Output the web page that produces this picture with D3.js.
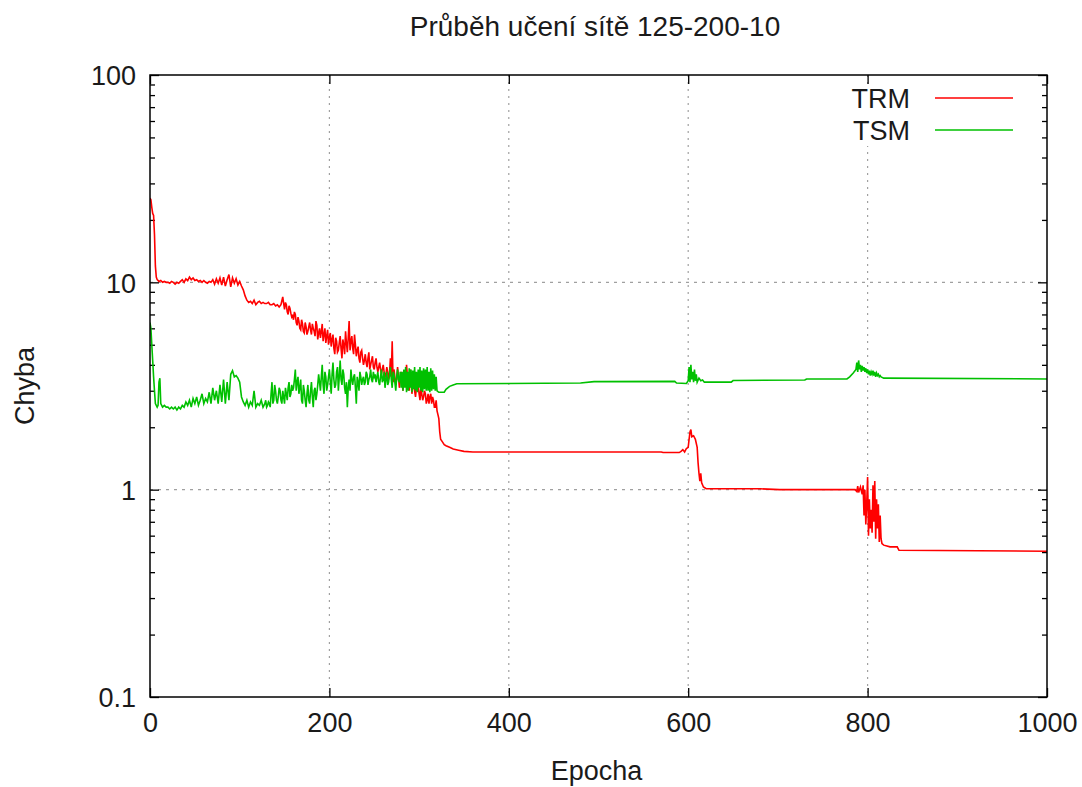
<!DOCTYPE html>
<html>
<head>
<meta charset="utf-8">
<script src="https://cdn.jsdelivr.net/npm/d3@7"></script>
<style>
  html, body { margin: 0; padding: 0; background: #fff; }
  svg { display: block; }
  text { font-family: "Liberation Sans", Arial, sans-serif; fill: #1a1a1a; }
</style>
</head>
<body>
<svg id="chart" width="1082" height="787"></svg>
<script>
const titleText = "Průběh učení sítě 125-200-10";
const xLabel = "Epocha";
const yLabel = "Chyba";
const xTicks = [0, 200, 400, 600, 800, 1000];
const yTicks = [0.1, 1, 10, 100];
const yTickLabels = ["0.1", "1", "10", "100"];
const seriesNames = ["TRM", "TSM"];
const seriesColors = ["#ff0000", "#00c000"];

// TRM: [epoch, error]
const trmData = [
[0,25.5],[1,25],[2,23],[3,21.5],[4,21],[5,17],[6,12],[7,10.6],[8,10.3],
[10,10.1],[12,10.2],[14,10.0],[16,10.1],[18,10.0],[20,10.0],[22,9.9],[24,10.1],[26,10.0],[28,9.8],
[30,10.0],[32,9.9],[34,10.1],[36,10.3],[38,10.0],[40,10.4],[42,10.2],[44,10.6],[46,10.3],[48,10.5],
[50,10.2],[52,10.3],[54,10.1],[56,10.2],[58,10.0],[60,10.2],[62,10.0],[64,9.9],[66,10.1],[68,10.0],
[70,10.3],[72,9.8],[74,10.4],[76,9.9],[78,10.5],[80,9.7],[82,10.6],[84,9.6],[86,10.3],[88,10.9],
[90,9.5],[92,10.5],[94,9.9],[96,10.4],[98,9.7],[100,10.1],[102,9.6],[104,9.2],[106,8.6],[108,8.2],
[110,8.0],[112,8.1],[114,7.9],[116,8.2],[118,7.8],[120,8.0],[122,8.1],[124,7.9],[126,8.0],[128,7.9],
[130,7.9],[132,8.0],[134,7.8],[136,7.8],[138,7.9],[140,7.7],[142,7.8],[144,7.6],[146,7.8],[148,8.5],
[149,7.9],[150,7.4],[151,8.0],[152,7.8],[153,7.2],[154,7.0],[155,7.7],[156,7.5],[157,7.1],[158,6.8],
[159,6.9],[160,6.6],[161,7.2],[162,7.0],[163,6.4],[164,6.2],[165,6.8],[166,6.5],[167,6.0],[168,5.9],
[169,6.6],[170,6.3],[171,5.8],[172,5.7],[173,6.4],[174,6.1],[175,5.6],[176,5.8],[177,6.1],[178,6.4],
[179,5.9],[180,5.6],[181,6.3],[182,6.0],[183,5.8],[184,5.5],[185,6.5],[186,6.2],[187,5.3],[188,5.7],
[189,6.0],[190,5.4],[191,5.8],[192,6.3],[193,5.2],[194,5.6],[195,6.0],[196,5.1],[197,5.5],[198,5.9],
[199,5.0],[200,5.4],[201,5.7],[202,4.9],[203,5.3],[204,5.6],[205,4.8],[206,4.5],[207,5.4],[208,5.2],
[209,4.6],[210,4.7],[211,5.1],[212,5.5],[213,4.8],[214,4.3],[215,5.3],[216,5.0],[217,4.5],[218,5.8],
[219,5.1],[220,4.6],[221,5.4],[222,6.5],[223,4.7],[224,5.2],[225,5.5],[226,4.8],[227,4.5],[228,5.6],
[229,5.0],[230,4.4],[231,4.7],[232,4.9],[233,4.3],[234,4.1],[235,4.6],[236,4.7],[237,4.3],[238,4.0],
[239,4.2],[240,4.5],[241,4.1],[242,3.9],[243,4.3],[244,4.6],[245,3.8],[246,4.0],[247,4.2],[248,4.4],
[249,3.9],[250,3.8],[251,4.1],[252,4.3],[253,3.9],[254,3.7],[255,3.9],[256,4.1],[257,3.8],[258,3.6],
[259,3.8],[260,4.0],[261,3.7],[262,3.5],[263,3.6],[264,3.9],[265,3.7],[266,3.4],[267,3.6],[268,4.3],
[269,3.5],[270,5.2],[271,3.3],[272,3.8],[273,3.5],[274,3.2],[275,3.4],[276,3.9],[277,3.5],[278,3.1],
[279,3.4],[280,3.7],[281,3.3],[282,3.0],[283,3.4],[284,3.6],[285,3.2],[286,4.0],[287,3.5],[288,3.2],
[289,3.0],[290,3.8],[291,3.4],[292,2.9],[293,3.2],[294,3.5],[295,3.0],[296,2.8],[297,3.1],[298,3.3],
[299,3.2],[300,2.9],[301,2.7],[302,3.1],[303,2.9],[304,2.7],[305,2.8],[306,3.0],[307,2.9],[308,2.6],
[309,2.7],[310,2.9],[311,2.6],[312,2.8],[313,2.9],[314,2.6],[315,2.8],[316,2.7],[317,2.5],[318,2.5],
[319,2.7],[320,2.4],[321,2.3],[322,2.2],[323,1.9],[324,1.75],
[326,1.7],[328,1.65],[330,1.63],[334,1.6],[338,1.57],[344,1.55],[350,1.53],[360,1.52],[570,1.52],
[572,1.51],[590,1.51],[592,1.53],[594,1.56],[596,1.52],[598,1.58],[600,1.6],[601,1.75],[602,1.9],
[603,1.95],[604,1.8],[606,1.82],[608,1.75],[610,1.6],[611,1.35],[612,1.2],[613,1.1],[614,1.2],
[615,1.08],[617,1.03],[620,1.01],[680,1.01],[702,1.0],[786,1.0],[788,0.98],[789,1.04],[790,0.97],
[792,1.03],[794,0.95],[795,1.05],[796,0.75],[797,1.0],[798,0.68],[799,0.85],[800,1.15],[801,0.6],
[802,0.9],[803,0.65],[804,0.8],[805,0.62],[806,1.05],[807,0.7],[808,1.1],[809,0.58],[810,0.9],
[811,0.65],[812,0.85],[813,0.56],[814,0.75],[815,0.58],[816,0.55],[818,0.54],[825,0.53],[833,0.53],
[835,0.51],[1000,0.505]
];

// TSM: [epoch, error]
const tsmData = [
[0,6.4],[1,6.0],[2,5.0],[3,4.2],[4,3.5],[5,3.0],[6,2.6],[7,2.55],[8,2.5],[9,2.55],[10,3.3],[11,3.45],
[12,2.6],[14,2.5],[16,2.55],[18,2.5],[20,2.5],[22,2.45],[24,2.5],[26,2.45],[28,2.5],[30,2.42],[32,2.5],
[34,2.45],[36,2.55],[38,2.5],[40,2.65],[42,2.55],[44,2.7],[46,2.5],[48,2.75],[50,2.6],[52,2.8],[54,2.55],
[56,2.7],[58,2.9],[60,2.6],[62,2.75],[64,2.65],[66,2.95],[68,2.6],[70,3.1],[72,2.7],[74,3.0],[76,2.6],
[78,3.2],[80,2.65],[82,3.4],[84,2.6],[86,3.3],[88,2.7],[90,3.6],[92,3.75],[94,3.5],[96,3.55],[98,3.45],
[100,3.3],[102,2.8],[104,2.65],[106,2.55],[108,2.7],[110,2.5],[112,2.65],[114,2.55],[116,3.0],[118,2.5],
[120,2.6],[122,2.55],[124,2.7],[126,2.5],[128,2.6],[129,2.7],[130,2.5],[131,2.55],[132,2.65],[133,2.6],
[134,2.5],[135,2.9],[136,3.3],[137,2.6],[138,2.7],[139,3.2],[140,3.0],[141,2.7],[142,2.6],[143,2.8],
[144,3.1],[145,3.0],[146,2.7],[147,2.6],[148,3.0],[149,2.8],[150,2.6],[151,3.1],[152,2.9],[153,2.7],
[154,3.1],[155,3.3],[156,2.8],[157,2.9],[158,3.2],[159,3.0],[160,3.1],[161,3.4],[162,3.8],[163,3.0],
[164,3.3],[165,3.5],[166,2.9],[167,3.1],[168,3.4],[169,2.7],[170,2.6],[171,3.2],[172,3.0],[173,2.7],
[174,2.5],[175,2.9],[176,3.2],[177,2.7],[178,2.6],[179,3.0],[180,3.3],[181,2.8],[182,2.5],[183,3.0],
[184,3.1],[185,2.7],[186,2.9],[187,3.2],[188,3.6],[189,3.3],[190,3.0],[191,3.5],[192,4.0],[193,3.2],
[194,2.9],[195,3.7],[196,3.5],[197,3.0],[198,3.2],[199,3.5],[200,3.8],[201,3.3],[202,2.9],[203,3.6],
[204,4.1],[205,3.4],[206,3.1],[207,3.2],[208,3.7],[209,3.9],[210,3.0],[211,3.5],[212,4.2],[213,3.4],
[214,3.2],[215,3.8],[216,3.6],[217,3.1],[218,2.9],[219,3.3],[220,2.5],[221,3.1],[222,3.4],[223,3.0],
[224,3.8],[225,3.4],[226,3.2],[227,3.5],[228,3.6],[229,3.1],[230,2.6],[231,3.5],[232,3.3],[233,3.0],
[234,3.7],[235,3.5],[236,3.2],[237,3.4],[238,3.5],[239,3.2],[240,3.3],[241,3.7],[242,3.6],[243,3.2],
[244,3.4],[245,3.5],[246,3.8],[247,3.4],[248,3.3],[249,3.7],[250,3.5],[251,3.6],[252,3.3],[253,3.5],
[254,3.7],[255,3.3],[256,3.2],[257,3.5],[258,3.8],[259,3.3],[260,3.4],[261,3.7],[262,3.1],[263,3.4],
[264,3.7],[265,3.2],[266,3.3],[267,3.6],[268,3.9],[269,3.4],[270,3.1],[271,3.7],[272,3.6],[273,3.3],
[274,3.0],[275,3.5],[276,3.8],[277,3.4],[278,3.3],[279,3.7],
[280,3.1],[281,3.7],[282,3.0],[283,3.8],[284,3.1],[285,3.9],[286,2.95],[287,3.7],[288,3.0],[289,3.85],
[290,3.1],[291,3.8],[292,2.95],[293,3.75],[294,3.05],[295,3.9],[296,3.0],[297,3.7],[298,2.95],[299,3.8],
[300,3.1],[301,3.9],[302,3.0],[303,3.75],[304,2.95],[305,3.85],[306,3.05],[307,3.8],[308,3.0],[309,3.9],
[310,3.0],[311,3.7],[312,2.95],[313,3.85],[314,3.0],[315,3.75],[316,3.05],[317,3.6],[318,3.0],[319,3.5],
[320,3.0],[322,2.95],[328,2.95],[330,3.05],[334,3.15],[338,3.2],[342,3.24],[480,3.27],[495,3.32],
[585,3.33],[587,3.27],[598,3.25],[600,3.35],[601,3.9],[602,3.3],[603,4.0],[604,3.4],[605,3.7],[606,3.3],
[607,3.8],[608,3.35],[609,3.6],[610,3.3],[612,3.45],[614,3.35],[616,3.38],[618,3.3],[648,3.3],[650,3.36],
[730,3.38],[732,3.42],[777,3.42],[780,3.5],[784,3.65],[787,3.8],[788,4.1],[789,3.7],[790,4.2],[791,3.8],
[792,4.0],[793,3.7],[794,3.95],[795,3.75],[796,3.9],[797,3.7],[798,3.85],[799,3.65],[800,3.8],[801,3.6],
[802,3.75],[803,3.55],[804,3.7],[805,3.6],[806,3.75],[807,3.55],[808,3.7],[809,3.5],[810,3.65],[811,3.55],
[812,3.6],[813,3.5],[814,3.55],[815,3.5],[818,3.45],[1000,3.42]
];

const svg = d3.select("#chart");
const L = 150, R = 1047, T = 75, B = 697;
const x = d3.scaleLinear().domain([0, 1000]).range([L, R]);
const y = d3.scaleLog().domain([0.1, 100]).range([B, T]);

// Grid
const gridColor = "#a0a0a0";
svg.append("g").selectAll("line").data(xTicks.slice(1, -1)).join("line")
  .attr("x1", d => x(d)).attr("x2", d => x(d)).attr("y1", T).attr("y2", B)
  .attr("stroke", gridColor).attr("stroke-width", 1.2).attr("stroke-dasharray", "2,5");
svg.append("g").selectAll("line").data(yTicks.slice(1, -1)).join("line")
  .attr("x1", L).attr("x2", R).attr("y1", d => y(d)).attr("y2", d => y(d))
  .attr("stroke", gridColor).attr("stroke-width", 1.2).attr("stroke-dasharray", "3,5");

// Legend background (opaque key)
svg.append("rect").attr("x", 840).attr("y", 84).attr("width", 185).attr("height", 62).attr("fill", "#fff");

// Minor ticks
const minorTicks = [];
[0.1, 1, 10].forEach(b => { for (let k = 2; k <= 9; k++) minorTicks.push(b * k); });

const fmtY = d => yTickLabels[yTicks.indexOf(d)];
const leftMajor = svg.append("g").attr("transform", `translate(${L},0)`)
  .call(d3.axisLeft(y).tickValues(yTicks).tickFormat(fmtY).tickSizeInner(-9).tickSizeOuter(0).tickPadding(14));
const leftMinor = svg.append("g").attr("transform", `translate(${L},0)`)
  .call(d3.axisLeft(y).tickValues(minorTicks).tickFormat("").tickSizeInner(-5).tickSizeOuter(0));
const rightMajor = svg.append("g").attr("transform", `translate(${R},0)`)
  .call(d3.axisRight(y).tickValues(yTicks).tickFormat("").tickSizeInner(-9).tickSizeOuter(0));
const rightMinor = svg.append("g").attr("transform", `translate(${R},0)`)
  .call(d3.axisRight(y).tickValues(minorTicks).tickFormat("").tickSizeInner(-5).tickSizeOuter(0));
const bottomAx = svg.append("g").attr("transform", `translate(0,${B})`)
  .call(d3.axisBottom(x).tickValues(xTicks).tickFormat(d3.format("d")).tickSizeInner(-9).tickSizeOuter(0).tickPadding(16));
const topAx = svg.append("g").attr("transform", `translate(0,${T})`)
  .call(d3.axisTop(x).tickValues(xTicks).tickFormat("").tickSizeInner(-9).tickSizeOuter(0));

[leftMajor, leftMinor, rightMajor, rightMinor, bottomAx, topAx].forEach(g => {
  g.select(".domain").remove();
  g.selectAll(".tick line").attr("stroke", "#000").attr("stroke-width", 1.3);
  g.selectAll(".tick text").attr("font-size", 27).attr("fill", "#1a1a1a")
    .attr("font-family", "'Liberation Sans', Arial, sans-serif");
});
leftMajor.selectAll(".tick text").attr("dy", "0.36em");
bottomAx.selectAll(".tick text").attr("dy", "0.71em");

// Series
const line = d3.line().x(d => x(d[0])).y(d => y(d[1]));
svg.append("clipPath").attr("id", "clip").append("rect")
  .attr("x", L).attr("y", T).attr("width", R - L).attr("height", B - T);
[trmData, tsmData].forEach((data, i) => {
  const sorted = data.slice().sort((a, b) => a[0] - b[0]);
  svg.append("path").datum(sorted).attr("d", line)
    .attr("fill", "none").attr("stroke", seriesColors[i]).attr("stroke-width", 1.6)
    .attr("stroke-linejoin", "miter").attr("clip-path", "url(#clip)");
});

// Frame
svg.append("rect").attr("x", L).attr("y", T).attr("width", R - L).attr("height", B - T)
  .attr("fill", "none").attr("stroke", "#000").attr("stroke-width", 1.5);

// Legend
const legendY = [98, 130];
seriesNames.forEach((name, i) => {
  svg.append("text").attr("x", 910).attr("y", legendY[i]).attr("dy", "0.36em")
    .attr("text-anchor", "end").attr("font-size", 27).text(name);
  svg.append("line").attr("x1", 935).attr("x2", 1013).attr("y1", legendY[i]).attr("y2", legendY[i])
    .attr("stroke", seriesColors[i]).attr("stroke-width", 1.6);
});

// Title and axis labels
svg.append("text").attr("x", 595).attr("y", 36).attr("text-anchor", "middle")
  .attr("font-size", 28).text(titleText);
svg.append("text").attr("x", (L + R) / 2 - 2).attr("y", 780).attr("text-anchor", "middle")
  .attr("font-size", 27).text(xLabel);
svg.append("text").attr("transform", `translate(34,${(T + B) / 2}) rotate(-90)`)
  .attr("text-anchor", "middle").attr("font-size", 27).text(yLabel);
</script>
</body>
</html>
